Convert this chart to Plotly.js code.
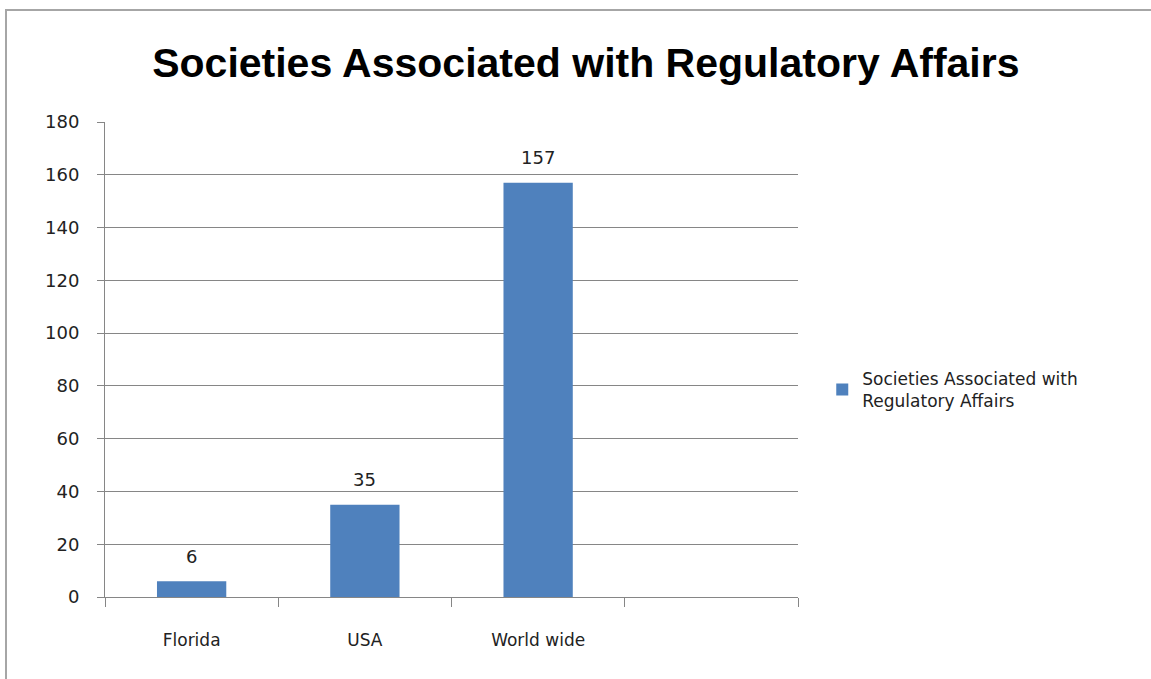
<!DOCTYPE html>
<html><head><meta charset="utf-8">
<script src="https://cdn.plot.ly/plotly-3.0.1.min.js"></script>
<style>
html,body{margin:0;padding:0;background:#fff;}
#wrap{position:relative;width:1151px;height:679px;}
#chart{position:absolute;left:0;top:0;width:1151px;height:679px;}
#frame{position:absolute;left:5px;top:9px;width:1146px;height:670px;border-top:2px solid #a6a6a6;border-left:2px solid #a6a6a6;box-sizing:border-box;pointer-events:none;}
</style></head>
<body><div id="wrap"><div id="chart"></div><div id="frame"></div></div>
<script>
const categories = ['Florida', 'USA', 'World wide'];
const values = [6, 35, 157];
const seriesName = 'Societies Associated with<br>Regulatory Affairs';
const chartTitle = 'Societies Associated with Regulatory Affairs';
const yTicks = [0, 20, 40, 60, 80, 100, 120, 140, 160, 180];
const slotCount = 4;

const xIdx = categories.map((c, i) => i);
const boundaries = [];
for (let i = 0; i <= slotCount; i++) boundaries.push(i - 0.5);

const trace = {
  type: 'bar', x: xIdx, y: values, name: seriesName,
  marker: {color: '#4f81bd'}, width: 0.4,
  showlegend: true, hoverinfo: 'none'
};
const helper = {
  type: 'scatter', x: [-0.5, 3.5], y: [0, 0], xaxis: 'x2', yaxis: 'y',
  mode: 'none', showlegend: false, hoverinfo: 'skip'
};

const labelAnnotations = values.map((v, i) => ({
  x: xIdx[i], y: v, xref: 'x', yref: 'y', text: String(v), showarrow: false,
  yanchor: 'middle', yshift: 25,
  font: {family: 'DejaVu Sans', size: 18, color: '#222'}
}));

const layout = {
  width: 1151, height: 679,
  margin: {l: 105, r: 353, t: 122, b: 82},
  paper_bgcolor: 'rgba(0,0,0,0)', plot_bgcolor: 'rgba(0,0,0,0)',
  title: {text: '<b>' + chartTitle + '</b>', x: 0.509, xanchor: 'center', y: 0.907, yanchor: 'middle',
          font: {family: 'Liberation Sans, Arial', size: 41, color: '#000'}},
  xaxis: {range: [-0.5, slotCount - 0.5], tickvals: xIdx, ticktext: categories,
          ticks: '', showgrid: false, zeroline: false, showline: false,
          ticklabelstandoff: 31,
          tickfont: {family: 'DejaVu Sans', size: 17, color: '#222'}},
  xaxis2: {overlaying: 'x', anchor: 'y', side: 'bottom', range: [-0.5, slotCount - 0.5],
           tickvals: boundaries, showticklabels: false, ticks: 'outside', ticklen: 9,
           tickcolor: '#868686', tickwidth: 1, showgrid: false, zeroline: false,
           showline: true, linecolor: '#868686', linewidth: 1},
  yaxis: {range: [0, 180], tickvals: yTicks, ticks: 'outside', ticklen: 7,
          tickcolor: '#868686', showline: true, linecolor: '#868686', linewidth: 1,
          showgrid: true, gridcolor: '#868686', gridwidth: 1, zeroline: false,
          ticklabelstandoff: 14,
          tickfont: {family: 'DejaVu Sans', size: 18, color: '#222'}},
  legend: {x: 1.035, xanchor: 'left', y: 0.436, yanchor: 'middle',
           font: {family: 'DejaVu Sans', size: 17, color: '#222'},
           itemwidth: 30, bgcolor: 'rgba(0,0,0,0)'},
  annotations: labelAnnotations,
  showlegend: true
};
Plotly.newPlot('chart', [trace, helper], layout, {displayModeBar: false, staticPlot: true});
</script></body></html>
